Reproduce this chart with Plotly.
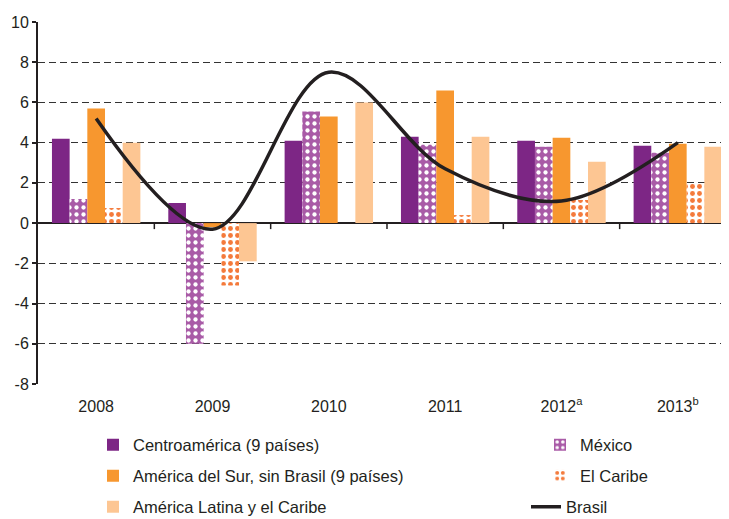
import plotly.graph_objects as go

years = ["2008", "2009", "2010", "2011", "2012<sup>a</sup>", "2013<sup>b</sup>"]
centroamerica = [4.2, 1.0, 4.1, 4.3, 4.1, 3.85]
mexico = [1.2, -6.0, 5.55, 3.9, 3.8, 3.5]
america_sur = [5.7, -0.2, 5.3, 6.6, 4.25, 3.95]
caribe = [0.75, -3.1, 0.0, 0.4, 1.15, 1.95]
america_latina = [4.0, -1.9, 6.0, 4.3, 3.05, 3.8]
brasil = [5.2, -0.3, 7.5, 2.7, 1.1, 4.0]
y_ticks = [-8, -6, -4, -2, 0, 2, 4, 6, 8, 10]
y_tick_labels = ["-8", "-6", "-4", "-2", "0", "2", "4", "6", "8", "10"]

C_CENTRO = "#7D2685"
C_MEX = "#A95BA7"
C_SUR = "#F7972F"
C_CAR = "#F47A3B"
C_ALC = "#FDC693"
C_LINE = "#231F20"

FONT = "Liberation Sans, Arial, sans-serif"

fig = go.Figure()
fig.add_bar(x=years, y=centroamerica, name="Centroamérica (9 países)",
            marker=dict(color=C_CENTRO, line=dict(width=0)), legend="legend")
fig.add_bar(x=years, y=mexico, name="México",
            marker=dict(color=C_MEX, line=dict(width=0),
                        pattern=dict(shape=".", bgcolor=C_MEX, fgcolor="white",
                                     size=7, solidity=0.3, fillmode="replace")),
            legend="legend2")
fig.add_bar(x=years, y=america_sur, name="América del Sur, sin Brasil (9 países)",
            marker=dict(color=C_SUR, line=dict(width=0)), legend="legend3")
fig.add_bar(x=years, y=caribe, name="El Caribe",
            marker=dict(color="white", line=dict(width=0),
                        pattern=dict(shape=".", bgcolor="white", fgcolor=C_CAR,
                                     size=7, solidity=0.38, fillmode="replace")),
            legend="legend4")
fig.add_bar(x=years, y=america_latina, name="América Latina y el Caribe",
            marker=dict(color=C_ALC, line=dict(width=0)), legend="legend5")
fig.add_scatter(x=years, y=brasil, name="Brasil", mode="lines",
                line=dict(color=C_LINE, width=3.5, shape="spline", smoothing=1.0),
                legend="legend6")

# small ticks on the zero line at category boundaries
for i in range(len(years)):
    fig.add_shape(type="line", xref="x", yref="y", x0=i + 0.5, x1=i + 0.5,
                  ysizemode="pixel", yanchor=0, y0=0, y1=-6,
                  line=dict(color=C_LINE, width=1.5))

leg_common = dict(orientation="h", xanchor="left", yanchor="middle",
                  font=dict(family=FONT, size=16.5, color="#231F20"),
                  bgcolor="rgba(0,0,0,0)", borderwidth=0, visible=True,
                  itemclick=False, itemdoubleclick=False)

# page has an 8px body margin; figure is 721x511 drawn at (8, 8).
# plot area on screen: x from 38 to 729 px (691 px), y from 22 to 384 px (362 px)
def px_x(p):
    return (p - 38) / 691.0

def px_y(p):
    return (384 - p) / 362.0

xl = px_x(93)
xr = px_x(540)

fig.update_layout(
    width=721, height=511,
    margin=dict(l=30, r=0, t=14, b=135, autoexpand=False),
    paper_bgcolor="white", plot_bgcolor="white",
    showlegend=True,
    barmode="group", bargap=0.24, bargroupgap=0,
    font=dict(family=FONT, size=16, color="#231F20"),
    legend=dict(x=xl, y=px_y(445), **leg_common),
    legend2=dict(x=xr, y=px_y(445), **leg_common),
    legend3=dict(x=xl, y=px_y(476), **leg_common),
    legend4=dict(x=xr, y=px_y(476), **leg_common),
    legend5=dict(x=xl, y=px_y(507), **leg_common),
    legend6=dict(x=px_x(526), y=px_y(507), **leg_common),
    xaxis=dict(type="category", range=[-0.5, 5.44], showgrid=False, showline=False,
               ticks="", tickfont=dict(size=16), ticklabelstandoff=11,
               automargin=False),
    yaxis=dict(range=[-8, 10], tickvals=y_ticks, ticktext=y_tick_labels,
               showgrid=True, gridcolor="#333333", gridwidth=1, griddash="7px,4px",
               zeroline=True, zerolinecolor=C_LINE, zerolinewidth=1.5,
               showline=True, linecolor=C_LINE, linewidth=2,
               ticks="outside", ticklen=4, tickcolor=C_LINE, tickwidth=1.5,
               tickfont=dict(size=16), automargin=False),
)

fig.write_html("out.html")
